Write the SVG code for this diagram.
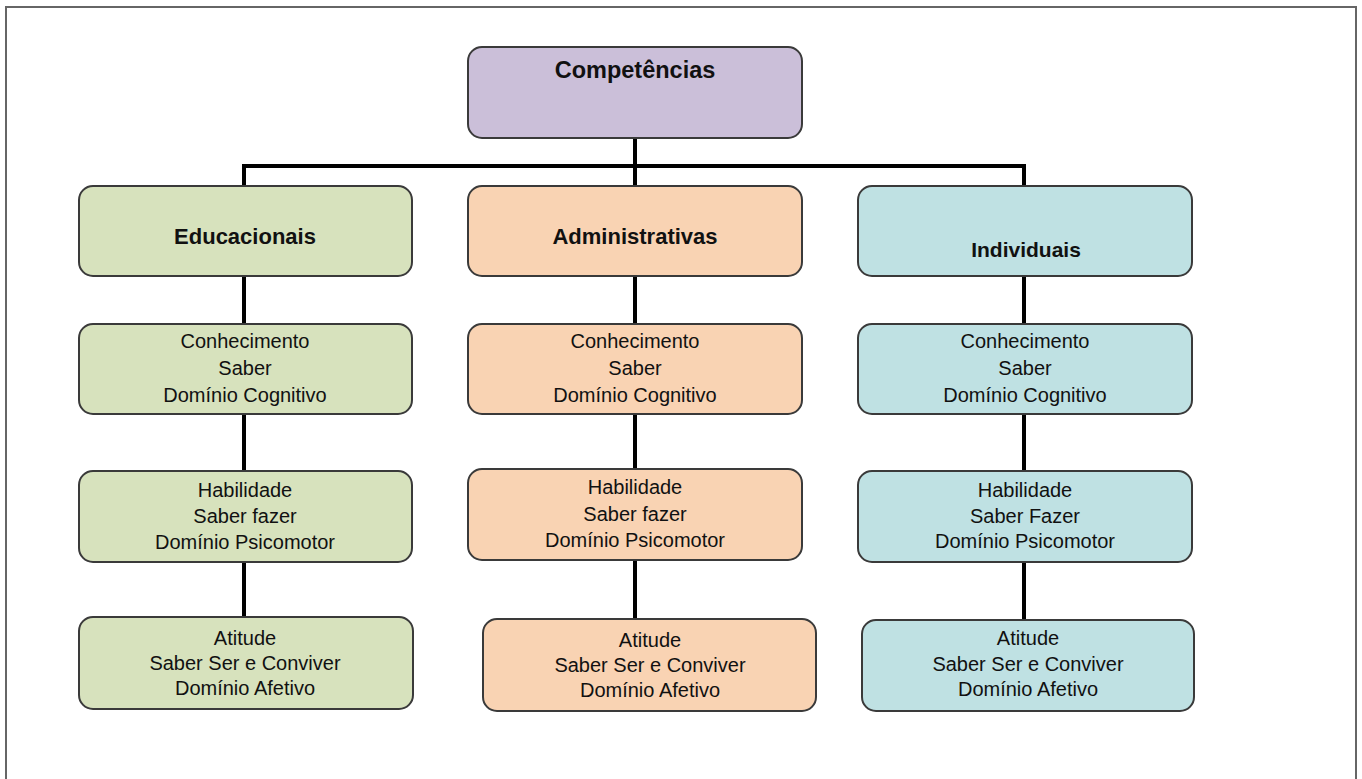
<svg xmlns="http://www.w3.org/2000/svg" width="1362" height="779" viewBox="0 0 1362 779">
<style>
.box{stroke:#3a3a3a;stroke-width:2}
.p{fill:#cbbfd9}.g{fill:#d7e2bd}.o{fill:#f9d3b3}.b{fill:#bfe1e3}
.t{font-family:"Liberation Sans",Arial,sans-serif;font-size:20px;fill:#111;text-anchor:middle}
.h{font-family:"Liberation Sans",Arial,sans-serif;font-size:22px;font-weight:bold;fill:#111;text-anchor:middle}
.c{stroke:#000;stroke-width:4;fill:none}
</style>
<rect x="0" y="0" width="1362" height="779" fill="#fff"/>
<path d="M6 779 V7 H1356 V779" fill="none" stroke="#666" stroke-width="2"/>
<g id="connectors">
<path class="c" d="M635 138 V186 M244 166 H1024 M244 164 V186 M1024 164 V186"/>
<path class="c" d="M244 276 V324 M244 414 V471 M244 562 V617"/>
<path class="c" d="M635 276 V324 M635 414 V469 M635 560 V619"/>
<path class="c" d="M1024 276 V324 M1024 414 V471 M1024 562 V620"/>
</g>
<g id="competencias"><rect class="box p" x="468" y="47" width="334" height="91" rx="14"/><text class="h" x="635" y="78" style="font-size:23.5px">Competências</text></g>
<g id="educacionais"><rect class="box g" x="79" y="186" width="333" height="90" rx="14"/><text class="h" x="245" y="244">Educacionais</text></g>
<g id="administrativas"><rect class="box o" x="468" y="186" width="334" height="90" rx="14"/><text class="h" x="635" y="244">Administrativas</text></g>
<g id="individuais"><rect class="box b" x="858" y="186" width="334" height="90" rx="14"/><text class="h" x="1026" y="257" style="font-size:21px">Individuais</text></g>
<g id="edu-conhecimento"><rect class="box g" x="79" y="324" width="333" height="90" rx="14"/><text class="t" x="245" y="348">Conhecimento</text><text class="t" x="245" y="375">Saber</text><text class="t" x="245" y="402">Domínio Cognitivo</text></g>
<g id="adm-conhecimento"><rect class="box o" x="468" y="324" width="334" height="90" rx="14"/><text class="t" x="635" y="348">Conhecimento</text><text class="t" x="635" y="375">Saber</text><text class="t" x="635" y="402">Domínio Cognitivo</text></g>
<g id="ind-conhecimento"><rect class="box b" x="858" y="324" width="334" height="90" rx="14"/><text class="t" x="1025" y="348">Conhecimento</text><text class="t" x="1025" y="375">Saber</text><text class="t" x="1025" y="402">Domínio Cognitivo</text></g>
<g id="edu-habilidade"><rect class="box g" x="79" y="471" width="333" height="91" rx="14"/><text class="t" x="245" y="497">Habilidade</text><text class="t" x="245" y="523">Saber fazer</text><text class="t" x="245" y="549">Domínio Psicomotor</text></g>
<g id="adm-habilidade"><rect class="box o" x="468" y="469" width="334" height="91" rx="14"/><text class="t" x="635" y="494">Habilidade</text><text class="t" x="635" y="521">Saber fazer</text><text class="t" x="635" y="547">Domínio Psicomotor</text></g>
<g id="ind-habilidade"><rect class="box b" x="858" y="471" width="334" height="91" rx="14"/><text class="t" x="1025" y="497">Habilidade</text><text class="t" x="1025" y="523">Saber Fazer</text><text class="t" x="1025" y="548">Domínio Psicomotor</text></g>
<g id="edu-atitude"><rect class="box g" x="79" y="617" width="334" height="92" rx="14"/><text class="t" x="245" y="645">Atitude</text><text class="t" x="245" y="670">Saber Ser e Conviver</text><text class="t" x="245" y="695">Domínio Afetivo</text></g>
<g id="adm-atitude"><rect class="box o" x="483" y="619" width="333" height="92" rx="14"/><text class="t" x="650" y="647">Atitude</text><text class="t" x="650" y="672">Saber Ser e Conviver</text><text class="t" x="650" y="697">Domínio Afetivo</text></g>
<g id="ind-atitude"><rect class="box b" x="862" y="620" width="332" height="91" rx="14"/><text class="t" x="1028" y="645">Atitude</text><text class="t" x="1028" y="671">Saber Ser e Conviver</text><text class="t" x="1028" y="696">Domínio Afetivo</text></g>
</svg>
